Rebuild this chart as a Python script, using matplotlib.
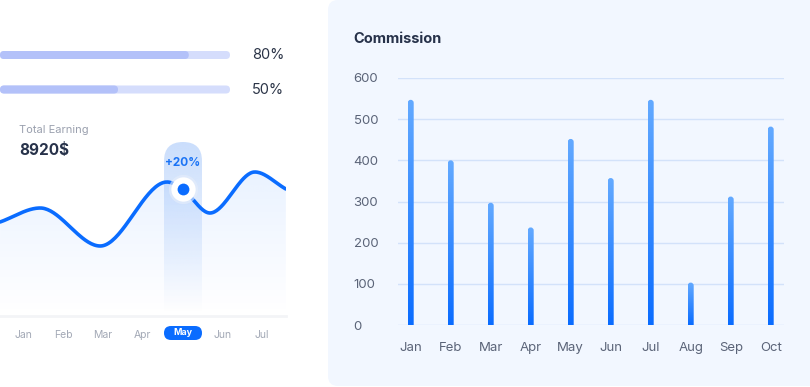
import numpy as np
import matplotlib
matplotlib.use("Agg")
import matplotlib.pyplot as plt
from matplotlib.patches import FancyBboxPatch, Polygon
from matplotlib.colors import to_rgb

plt.rcParams["font.family"] = ["Inter", "DejaVu Sans"]

# progress bars
progress = [80, 50]

# total earning line (month index, height)
earn_total = "8920$"
earn_months = ["Jan", "Feb", "Mar", "Apr", "May", "Jun", "Jul"]
earn_x = [-0.59, 0.42, 1.93, 3.61, 4.0, 4.69, 5.82, 6.60]
earn_y = [94, 108, 70, 134, 127, 103, 144, 127]
hl_idx = 4
hl_label = "+20%"

# commission bars
com_months = ["Jan", "Feb", "Mar", "Apr", "May", "Jun", "Jul", "Aug", "Sep", "Oct"]
com_vals = [547, 400, 297, 237, 452, 357, 547, 103, 312, 482]
com_ticks = [0, 100, 200, 300, 400, 500, 600]

BLUE = "#0a6cff"
DARK = "#27324a"
W, H = 810, 387


def fax(x0, y0, x1, y1):
    # axes placed by pixel box (top-left origin)
    return fig.add_axes([x0 / W, 1 - y1 / H, (x1 - x0) / W, (y1 - y0) / H])


def hermite(xs, ys, n=40):
    xs, ys = np.asarray(xs, float), np.asarray(ys, float)
    sec = np.diff(ys) / np.diff(xs)
    m = np.zeros(len(xs))
    m[0], m[-1] = sec[0], sec[-1]
    for i in range(1, len(xs) - 1):
        m[i] = 0 if sec[i - 1] * sec[i] <= 0 else (sec[i - 1] + sec[i]) / 2
    px, py = [], []
    for i in range(len(xs) - 1):
        h = xs[i + 1] - xs[i]
        t = np.linspace(0, 1, n, endpoint=False)
        h00 = 2 * t**3 - 3 * t**2 + 1
        h10 = t**3 - 2 * t**2 + t
        h01 = -2 * t**3 + 3 * t**2
        h11 = t**3 - t**2
        px.append(xs[i] + t * h)
        py.append(h00 * ys[i] + h10 * h * m[i] + h01 * ys[i + 1] + h11 * h * m[i + 1])
    px.append([xs[-1]])
    py.append([ys[-1]])
    return np.concatenate(px), np.concatenate(py)


def vgrad(c, a_top, a_bot, n=256):
    g = np.zeros((n, 1, 4))
    g[..., :3] = to_rgb(c)
    g[:, 0, 3] = np.linspace(a_top, a_bot, n)
    return g


fig = plt.figure(figsize=(W / 100, H / 100), dpi=100)
fig.patch.set_facecolor("white")

# background layer in pixel coords
bg = fax(0, 0, W, H)
bg.set_xlim(0, W)
bg.set_ylim(H, 0)
bg.axis("off")

bg.add_patch(FancyBboxPatch((328, 0), 492, 386, boxstyle="round,pad=0,rounding_size=10",
                            fc="#f2f7ff", ec="none"))
bg.text(353, 39, "Commission", fontsize=10.5, fontweight="bold", color=DARK, va="center")

for i, p in enumerate(progress):
    yc = 55 + 34.5 * i
    bg.add_patch(FancyBboxPatch((0, yc - 4), 230, 8, boxstyle="round,pad=0,rounding_size=4",
                                fc="#d5ddfc", ec="none"))
    bg.add_patch(FancyBboxPatch((0, yc - 4), 236 * p / 100, 8,
                                boxstyle="round,pad=0,rounding_size=4", fc="#b3c1f9", ec="none"))
    bg.text(252, yc, f"{p}%", fontsize=10.5, color="#2b3447", va="center")

bg.text(19, 130, "Total Earning", fontsize=8, color="#9aa0ae", va="center")
bg.text(19, 151, earn_total, fontsize=11, fontweight="bold", color=DARK, va="center")

# highlight column behind the line
col = FancyBboxPatch((164, 142), 38, 200, boxstyle="round,pad=0,rounding_size=19",
                     fc="none", ec="none")
bg.add_patch(col)
im = bg.imshow(vgrad("#b9d3fb", 0.75, 0.0), extent=(164, 202, 312, 142), aspect="auto",
               interpolation="bicubic", zorder=1)
im.set_clip_path(col)
# pill under the highlighted month
bg.add_patch(FancyBboxPatch((164, 326), 38, 14, boxstyle="round,pad=0,rounding_size=7",
                            fc=BLUE, ec="none", zorder=2))
bg.set_xlim(0, W)
bg.set_ylim(H, 0)

# line chart
la = fax(0, 140, 286, 316)
la.patch.set_alpha(0)
la.set_xlim(-23.5 / 39.75, (286 - 23.5) / 39.75)
la.set_ylim(0, 176)
cx, cy = hermite(earn_x, earn_y)
poly = Polygon(np.column_stack([np.r_[cx, cx[-1], cx[0]], np.r_[cy, 0, 0]]),
               fc="none", ec="none")
la.add_patch(poly)
im2 = la.imshow(vgrad(BLUE, 0.09, 0.0), extent=(cx[0], cx[-1], 0, 150), aspect="auto",
                interpolation="bicubic", zorder=1)
im2.set_clip_path(poly)
la.plot(cx, cy, color=BLUE, lw=2.6, solid_capstyle="round", zorder=3)
hy = earn_y[earn_x.index(4.0)]
la.plot([hl_idx], [hy], "o", ms=21, mfc="#e6eefb", mec="none", alpha=0.6, zorder=4)
la.plot([hl_idx], [hy], "o", ms=17.5, mfc="white", mec="none", zorder=5)
la.plot([hl_idx], [hy], "o", ms=8.5, mfc=BLUE, mec="none", zorder=6)
la.text(hl_idx, hy + 26, hl_label, fontsize=8.5, fontweight="bold", color="#1a73f5",
        ha="center", va="center", zorder=6)
la.set_xticks(range(len(earn_months)))
la.set_xticklabels(earn_months)
la.tick_params(axis="x", length=0, pad=10, labelsize=7.5, labelcolor="#a3a9b6")
la.set_yticks([])
for s in ["top", "left", "right"]:
    la.spines[s].set_visible(False)
la.spines["bottom"].set_color("#f3f4f7")
la.spines["bottom"].set_linewidth(2)
for i, t in enumerate(la.get_xticklabels()):
    if i == hl_idx:
        t.set_color("white")
        t.set_fontweight("bold")
        t.set_fontsize(6.5)
        t.set_y(0.012)

# commission bar chart
ba = fax(398, 78, 784, 325)
ba.patch.set_alpha(0)
ba.set_xlim(-12.7 / 40, (784 - 410.7) / 40)
ba.set_ylim(0, 600)
bw = 6 / 40
for i, v in enumerate(com_vals):
    clip = FancyBboxPatch((i - bw / 2, -20), bw, v + 20,
                          boxstyle="round,pad=0,rounding_size=%.4f" % (bw / 2),
                          mutation_aspect=(600 / 247) * 40, fc="none", ec="none")
    ba.add_patch(clip)
    g = np.zeros((256, 1, 3))
    top, bot = np.array(to_rgb("#64aaff")), np.array(to_rgb("#0a6cff"))
    g[:, 0, :] = top + (bot - top) * np.linspace(0, 1, 256)[:, None]
    bim = ba.imshow(g, extent=(i - bw / 2, i + bw / 2, 0, v), aspect="auto",
                    interpolation="bicubic", zorder=3)
    bim.set_clip_path(clip)
ba.set_xlim(-12.7 / 40, (784 - 410.7) / 40)
ba.set_ylim(0, 600)
ba.set_yticks(com_ticks)
ba.set_xticks(range(len(com_months)))
ba.set_xticklabels(com_months)
ba.grid(axis="y", color="#d3e2fa", lw=1)
ba.set_axisbelow(True)
for s in ba.spines.values():
    s.set_visible(False)
ba.tick_params(axis="y", length=0, pad=32, labelsize=9.5, labelcolor="#5b6478")
ba.tick_params(axis="x", length=0, pad=12, labelsize=9.5, labelcolor="#5b6478")
for t in ba.get_yticklabels():
    t.set_horizontalalignment("left")

fig.savefig("out.png", dpi=100, facecolor="white")
